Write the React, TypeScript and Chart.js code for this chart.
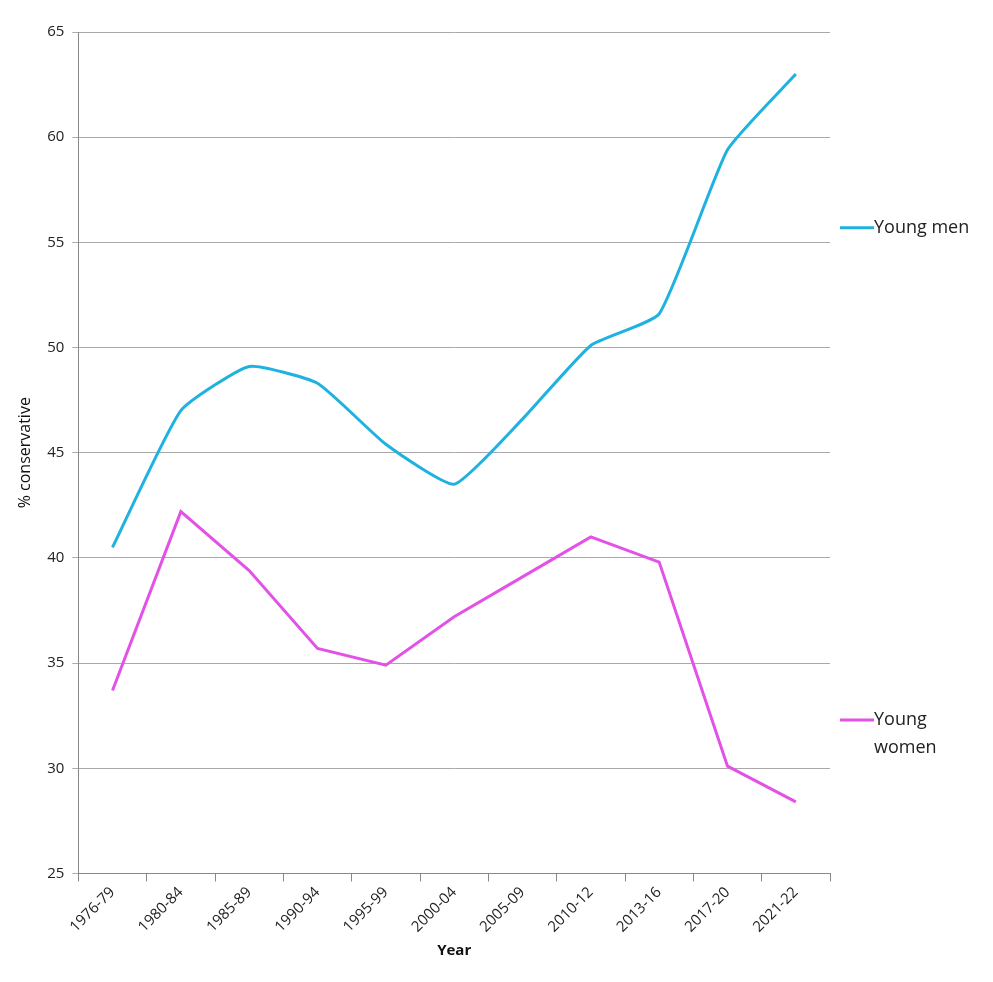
import React, { useEffect, useRef } from "react";
import { Chart, registerables } from "chart.js";
Chart.register(...registerables);

const categories = ["1976-79","1980-84","1985-89","1990-94","1995-99","2000-04","2005-09","2010-12","2013-16","2017-20","2021-22"];
const youngMen = [40.5, 47.0, 49.1, 48.3, 45.4, 43.5, 46.6, 50.1, 51.6, 59.4, 63.0];
const youngWomen = [33.7, 42.2, 39.4, 35.7, 34.9, 37.2, 39.1, 41.0, 39.8, 30.1, 28.4];
const legendItems = [
  { lines: ["Young men"], color: "#1fb2e0", at: 55.7 },
  { lines: ["Young", "women"], color: "#e352e6", at: 32.3 },
];

const font = "'Open Sans', 'Noto Sans', sans-serif";

export default function App() {
  const ref = useRef<HTMLCanvasElement>(null);
  useEffect(() => {
    const legendPlugin = {
      id: "sideLegend",
      afterDraw(chart: any) {
        const { ctx, chartArea, scales } = chart;
        ctx.save();
        ctx.font = `18px ${font}`;
        ctx.textBaseline = "middle";
        legendItems.forEach((it) => {
          const y = scales.y.getPixelForValue(it.at);
          ctx.strokeStyle = it.color;
          ctx.lineWidth = 3;
          ctx.beginPath();
          ctx.moveTo(chartArea.right + 10, y);
          ctx.lineTo(chartArea.right + 44, y);
          ctx.stroke();
          ctx.fillStyle = "#222";
          it.lines.forEach((l, i) => ctx.fillText(l, chartArea.right + 44, y + i * 28));
        });
        ctx.restore();
      },
    };
    const chart = new Chart(ref.current!, {
      type: "line",
      data: {
        labels: categories,
        datasets: [
          { label: "Young men", data: youngMen, borderColor: "#1fb2e0", borderWidth: 3, pointRadius: 0, tension: 0.15, fill: false },
          { label: "Young women", data: youngWomen, borderColor: "#e352e6", borderWidth: 3, pointRadius: 0, tension: 0, fill: false },
        ],
      },
      options: {
        animation: false,
        responsive: true,
        maintainAspectRatio: false,
        layout: { padding: { top: 32, right: 163, bottom: 18, left: 12 } },
        plugins: { legend: { display: false }, tooltip: { enabled: false } },
        scales: {
          x: {
            offset: true,
            grid: { display: true, drawOnChartArea: false, drawTicks: true, tickLength: 8, color: "#888", offset: true },
            border: { color: "#888" },
            ticks: { color: "#222", font: { family: font, size: 15 }, maxRotation: 45, minRotation: 45, padding: 2 },
            title: { display: true, text: "Year", color: "#111", font: { family: font, size: 15, weight: "bold" } },
          },
          y: {
            min: 25, max: 65,
            ticks: { stepSize: 5, color: "#222", font: { family: font, size: 15 }, padding: 8 },
            grid: { color: "#aaa", tickLength: 6 },
            border: { color: "#888" },
            title: { display: true, text: "% conservative", color: "#111", font: { family: font, size: 16 } },
          },
        },
      },
      plugins: [legendPlugin],
    });
    return () => chart.destroy();
  }, []);
  return (
    <div style={{ position: "absolute", left: 0, top: 0, width: 993, height: 982, background: "#fff" }}>
      <canvas ref={ref} />
    </div>
  );
}
